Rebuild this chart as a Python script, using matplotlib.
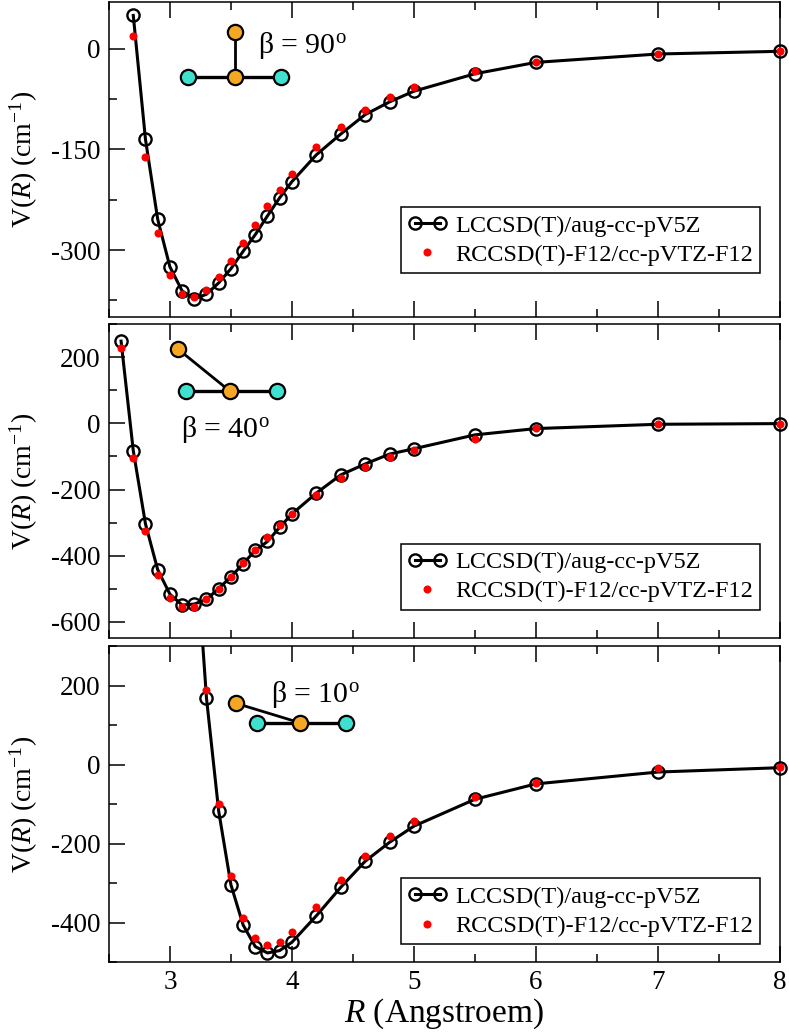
import numpy as np
import matplotlib
matplotlib.use("Agg")
import matplotlib.pyplot as plt
from matplotlib.ticker import MultipleLocator
from matplotlib.lines import Line2D
from matplotlib.legend_handler import HandlerLine2D

plt.rcParams['font.family'] = ['Liberation Serif', 'DejaVu Serif']
plt.rcParams['mathtext.fontset'] = 'custom'
plt.rcParams['mathtext.rm'] = 'Liberation Serif'
plt.rcParams['mathtext.it'] = 'Liberation Serif:italic'
plt.rcParams['axes.unicode_minus'] = False

# distances R (Angstroem)
R_90 = [2.7, 2.8, 2.9, 3.0, 3.1, 3.2, 3.3, 3.4, 3.5, 3.6, 3.7, 3.8, 3.9, 4.0,
        4.2, 4.4, 4.6, 4.8, 5.0, 5.5, 6.0, 7.0, 8.0]
R_40 = [2.6, 2.7, 2.8, 2.9, 3.0, 3.1, 3.2, 3.3, 3.4, 3.5, 3.6, 3.7, 3.8, 3.9,
        4.0, 4.2, 4.4, 4.6, 4.8, 5.0, 5.5, 6.0, 7.0, 8.0]
R_10 = [3.2, 3.3, 3.4, 3.5, 3.6, 3.7, 3.8, 3.9, 4.0, 4.2, 4.4, 4.6, 4.8, 5.0,
        5.5, 6.0, 7.0, 8.0]

# V(R) in cm-1
lcc_90 = [50, -135, -254, -325, -361, -373, -366, -349, -328, -302, -277, -249,
          -222, -198, -158, -127, -98, -79, -63, -37, -20, -7.5, -3.5]
f12_90 = [20, -161, -274, -338, -366, -370, -360, -340, -316, -289, -262, -235,
          -211, -187, -147, -116, -91, -72, -57, -33, -20, -7.5, -3.5]
lcc_40 = [248, -83, -304, -442, -516, -549, -546, -532, -499, -464, -424, -384,
          -357, -314, -274, -211, -156, -123, -93, -77, -35, -16, -3, -1]
f12_40 = [228, -105, -324, -457, -527, -556, -554, -532, -502, -464, -422, -384,
          -344, -307, -274, -216, -166, -133, -103, -82, -46, -13, -3, -1]
lcc_10 = [610, 168, -118, -304, -406, -461, -477, -471, -450, -383, -311, -245,
          -197, -156, -88, -49, -19, -8]
f12_10 = [640, 189, -100, -283, -389, -440, -456, -449, -425, -360, -292, -231,
          -182, -144, -83, -47, -8, -5]

lab1 = 'LCCSD(T)/aug-cc-pV5Z'
lab2 = 'RCCSD(T)-F12/cc-pVTZ-F12'
orange = '#F5A623'
turq = '#40E0D0'

fig = plt.figure(figsize=(7.89, 10.33), dpi=100)
boxes = [[0.138, 0.6931, 0.8505, 0.3049],
         [0.138, 0.3819, 0.8505, 0.3045],
         [0.138, 0.0687, 0.8505, 0.3059]]

panels = [
    dict(R=R_90, lcc=lcc_90, f12=f12_90, ylim=(-400, 70), major=150, minor=75,
         leg=(0.971, 0.139), text='β = 90$^{\\mathrm{o}}$', tpos=(0.222, 0.838),
         atoms=[(0.188, 0.905), (0.188, 0.762), (0.118, 0.762), (0.256, 0.762)]),
    dict(R=R_40, lcc=lcc_40, f12=f12_40, ylim=(-650, 300), major=200, minor=100,
         leg=(0.971, 0.0916), text='β = 40$^{\\mathrm{o}}$', tpos=(0.108, 0.642),
         atoms=[(0.103, 0.920), (0.180, 0.787), (0.115, 0.787), (0.250, 0.787)]),
    dict(R=R_10, lcc=lcc_10, f12=f12_10, ylim=(-500, 300), major=200, minor=100,
         leg=(0.971, 0.056), text='β = 10$^{\\mathrm{o}}$', tpos=(0.241, 0.824),
         atoms=[(0.189, 0.819), (0.285, 0.757), (0.221, 0.757), (0.354, 0.757)]),
]

for i, p in enumerate(panels):
    ax = fig.add_axes(boxes[i])
    R = np.array(p['R'])
    lcc = np.array(p['lcc'], dtype=float)
    f12 = np.array(p['f12'], dtype=float)
    ymax = p['ylim'][1]

    ax.plot(R, lcc, color='k', lw=2.2, zorder=2)
    ok = lcc <= ymax
    ax.plot(R[ok], lcc[ok], 'o', mfc='none', mec='k', ms=8.8, mew=1.7,
            zorder=3, clip_on=False)
    ok = f12 <= ymax
    ax.plot(R[ok], f12[ok], 'o', color='red', mec='none', ms=5.8,
            zorder=4, clip_on=False)

    ax.set_xlim(2.5, 8)
    ax.set_ylim(*p['ylim'])
    ax.xaxis.set_major_locator(MultipleLocator(1))
    ax.xaxis.set_minor_locator(MultipleLocator(0.5))
    ax.yaxis.set_major_locator(MultipleLocator(p['major']))
    ax.yaxis.set_minor_locator(MultipleLocator(p['minor']))
    ax.tick_params(which='both', direction='in', top=True, right=False,
                   width=1.1, labelsize=19.5, pad=6)
    ax.tick_params(which='major', length=11.5)
    ax.tick_params(which='minor', length=5.8)
    for s in ax.spines.values():
        s.set_linewidth(1.1)
    if i < 2:
        ax.tick_params(labelbottom=False)
    else:
        ax.set_xlabel(r'$\it{R}$ (Angstroem)', fontsize=24, labelpad=1)

    ax.set_ylabel(r'V($\it{R}$) (cm$^{-1}$)', fontsize=20)
    ax.yaxis.set_label_coords(-0.103, 0.5)

    # molecule sketch
    top, cen, lft, rgt = p['atoms']
    ax.plot([top[0], cen[0]], [top[1], cen[1]], color='k', lw=2,
            transform=ax.transAxes, zorder=5)
    ax.plot([lft[0], rgt[0]], [lft[1], rgt[1]], color='k', lw=2.4,
            transform=ax.transAxes, zorder=5)
    for xy, c in [(top, orange), (cen, orange), (lft, turq), (rgt, turq)]:
        ax.plot(xy[0], xy[1], 'o', ms=11, mfc=c, mec='k', mew=1.6,
                transform=ax.transAxes, zorder=6)
    ax.text(p['tpos'][0], p['tpos'][1], p['text'], transform=ax.transAxes,
            fontsize=21.5, va='baseline', ha='left')

    h1 = Line2D([], [], color='k', lw=2.2, marker='o', mfc='none', mec='k',
                ms=8.8, mew=1.7)
    h2 = Line2D([], [], linestyle='none', marker='o', color='red', mec='none',
                ms=5.8)
    leg = ax.legend([h1, h2], [lab1, lab2], loc='lower right',
                    bbox_to_anchor=p['leg'], borderaxespad=0, fancybox=False,
                    edgecolor='k', framealpha=1, fontsize=17.5,
                    handlelength=1.6, labelspacing=0.3, borderpad=0.3,
                    handletextpad=0.35,
                    handler_map={h1: HandlerLine2D(numpoints=2),
                                 h2: HandlerLine2D(numpoints=1)})
    leg.get_frame().set_linewidth(1.1)

fig.savefig('out.png', dpi=100)
